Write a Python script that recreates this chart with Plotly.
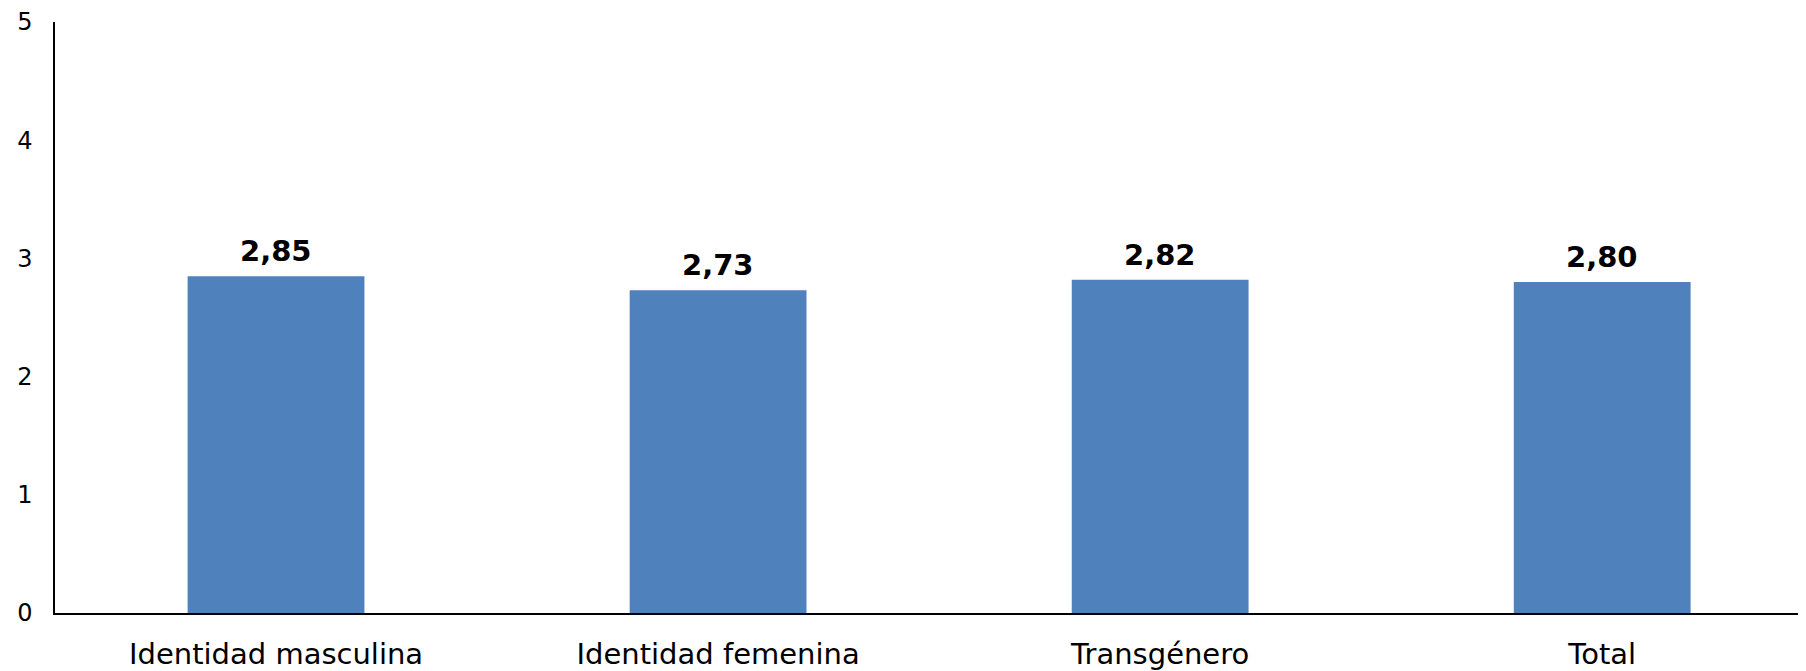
import plotly.graph_objects as go

categories = ["Identidad masculina", "Identidad femenina", "Transgénero", "Total"]
values = [2.85, 2.73, 2.82, 2.80]
value_labels = ["2,85", "2,73", "2,82", "2,80"]
y_ticks = [0, 1, 2, 3, 4, 5]

font_family = "DejaVu Sans, Verdana, sans-serif"

fig = go.Figure()
fig.add_trace(go.Bar(
    x=categories,
    y=values,
    width=0.4,
    marker=dict(color="#4F81BD", line=dict(width=0)),
    hoverinfo="skip",
))

# value labels above each bar
for cat, val, lab in zip(categories, values, value_labels):
    fig.add_annotation(
        x=cat, y=val, text=f"<b>{lab}</b>",
        showarrow=False, yanchor="bottom", yshift=6,
        font=dict(family=font_family, size=29, color="black"),
    )

# page body adds an 8px margin, so the figure is 8px smaller than the window
fig.update_layout(
    width=1798,
    height=663,
    margin=dict(l=47, r=0, t=10, b=55),
    plot_bgcolor="white",
    paper_bgcolor="white",
    showlegend=False,
    font=dict(family=font_family, color="black"),
    xaxis=dict(
        range=[-0.5, 3.461],
        showline=True, linecolor="black", linewidth=1.5,
        showgrid=False, ticks="", ticklabelstandoff=14,
        tickfont=dict(size=29),
    ),
    yaxis=dict(
        range=[0, 5],
        tickvals=y_ticks,
        showline=True, linecolor="black", linewidth=1.5,
        showgrid=False, zeroline=False, ticks="", ticklabelstandoff=16,
        ticklabeloverflow="allow",
        tickfont=dict(size=24),
    ),
)

fig.write_html("out.html")
